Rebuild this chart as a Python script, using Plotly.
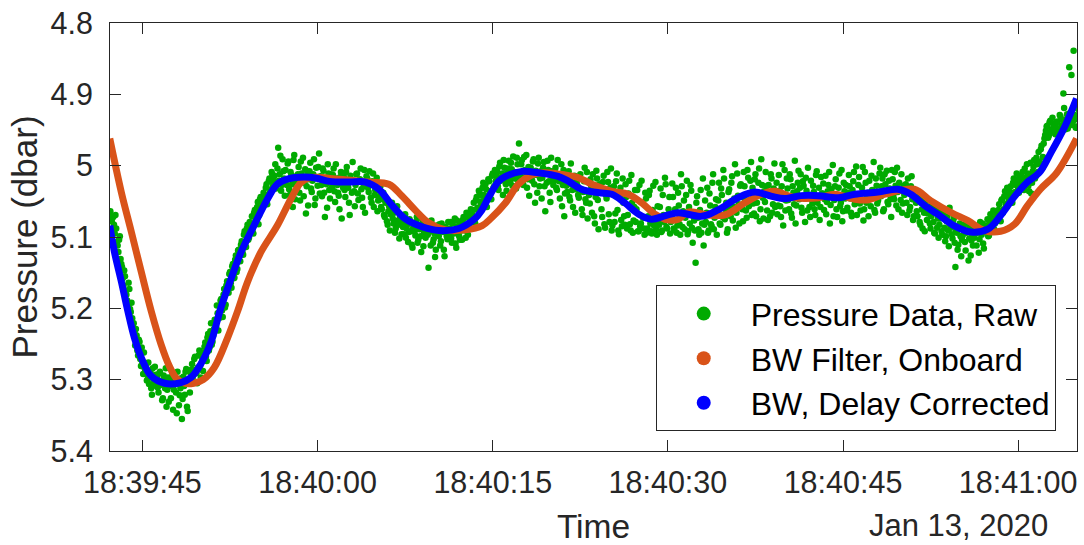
import numpy as np
import pandas as pd
import plotly.graph_objects as go

# ---------------- data ----------------
BASE = "2020-01-13 18:39:00"          # times below are seconds after this
X_RANGE_S = [42.22, 125.04]

# Raw pressure samples (dbar); two interleaved sample sets, each at 8 Hz
RAW_DT_S = 0.125
RAW_A_START_S = 42.25
RAW_A_P = [
    5.064, 5.078, 5.072, 5.095, 5.088, 5.112, 5.104, 5.131,
    5.142, 5.168, 5.155, 5.181, 5.196, 5.173, 5.205, 5.214,
    5.221, 5.252, 5.238, 5.266, 5.247, 5.281, 5.276, 5.262,
    5.288, 5.301, 5.276, 5.297, 5.312, 5.284, 5.305, 5.293,
    5.296, 5.318, 5.289, 5.307, 5.326, 5.301, 5.284, 5.314,
    5.331, 5.298, 5.309, 5.342, 5.295, 5.318, 5.289, 5.336,
    5.312, 5.355, 5.296, 5.321, 5.285, 5.344, 5.301, 5.290,
    5.278, 5.302, 5.268, 5.291, 5.283, 5.259, 5.297, 5.272,
    5.262, 5.248, 5.274, 5.236, 5.255, 5.221, 5.247, 5.229,
    5.218, 5.196, 5.231, 5.204, 5.187, 5.212, 5.173, 5.195,
    5.162, 5.178, 5.149, 5.171, 5.138, 5.157, 5.126, 5.145,
    5.118, 5.134, 5.106, 5.125, 5.092, 5.114, 5.083, 5.101,
    5.087, 5.071, 5.095, 5.062, 5.078, 5.051, 5.069, 5.044,
    5.057, 5.038, 5.049, 5.026, 5.041, 5.018, 5.033, 5.012,
    5.021, 4.998, 5.028, 4.975, 5.012, 5.035, 4.991, 5.018,
    5.006, 5.027, 4.994, 5.041, 5.013, 5.058, 4.985, 5.022,
    5.031, 5.002, 5.049, 5.011, 4.989, 5.024, 5.067, 5.008,
    5.019, 4.996, 5.037, 5.012, 5.055, 5.003, 5.028, 4.983,
    5.015, 5.043, 5.007, 5.072, 5.026, 4.998, 5.034, 5.012,
    5.029, 5.004, 5.051, 5.018, 5.038, 5.061, 5.009, 5.025,
    5.016, 5.044, 5.002, 5.031, 5.069, 5.021, 4.995, 5.036,
    5.027, 5.011, 5.048, 5.019, 5.033, 5.058, 5.006, 5.024,
    5.018, 5.037, 5.026, 5.052, 5.011, 5.041, 5.029, 5.064,
    5.044, 5.029, 5.061, 5.038, 5.072, 5.049, 5.083, 5.057,
    5.068, 5.052, 5.081, 5.094, 5.063, 5.077, 5.102, 5.071,
    5.079, 5.096, 5.068, 5.088, 5.107, 5.075, 5.092, 5.115,
    5.083, 5.098, 5.072, 5.104, 5.089, 5.121, 5.078, 5.094,
    5.101, 5.086, 5.143, 5.092, 5.077, 5.108, 5.095, 5.118,
    5.084, 5.099, 5.112, 5.081, 5.093, 5.127, 5.088, 5.103,
    5.096, 5.079, 5.108, 5.091, 5.074, 5.115, 5.085, 5.099,
    5.083, 5.104, 5.072, 5.091, 5.066, 5.097, 5.078, 5.061,
    5.069, 5.052, 5.081, 5.044, 5.063, 5.038, 5.057, 5.031,
    5.041, 5.026, 5.058, 5.019, 5.036, 5.047, 5.011, 5.029,
    5.022, 5.008, 5.034, 4.996, 5.017, 5.041, 5.003, 5.026,
    5.011, 4.993, 5.024, 5.005, 4.987, 5.018, 5.032, 4.998,
    4.969, 5.014, 4.992, 5.027, 5.006, 4.985, 5.019, 5.042,
    5.003, 5.021, 4.991, 5.052, 5.013, 4.997, 5.029, 5.008,
    5.017, 4.995, 5.064, 5.024, 5.006, 5.038, 4.989, 5.015,
    5.021, 5.003, 5.034, 5.012, 5.046, 4.998, 5.027, 5.071,
    5.019, 5.037, 5.008, 5.049, 5.026, 5.058, 5.014, 5.033,
    5.028, 5.045, 5.012, 5.061, 5.037, 5.003, 5.052, 5.074,
    5.041, 5.019, 5.066, 5.032, 5.081, 5.007, 5.048, 5.026,
    5.035, 5.072, 5.014, 5.087, 5.046, 5.023, 5.079, 5.004,
    5.084, 5.029, 5.067, 5.011, 5.091, 5.043, 5.076, 5.018,
    5.071, 5.026, 5.088, 5.039, 5.082, 5.013, 5.094, 5.058,
    5.079, 5.034, 5.092, 5.085, 5.021, 5.073, 5.097, 5.046,
    5.088, 5.041, 5.081, 5.095, 5.028, 5.077, 5.089, 5.057,
    5.083, 5.032, 5.091, 5.069, 5.017, 5.086, 5.074, 5.044,
    5.079, 5.025, 5.088, 5.061, 5.094, 5.038, 5.082, 5.012,
    5.086, 5.049, 5.073, 5.021, 5.092, 5.081, 5.035, 5.108,
    5.077, 5.136, 5.043, 5.089, 5.062, 5.094, 5.018, 5.083,
    5.079, 5.031, 5.091, 5.056, 5.085, 5.012, 5.073, 5.047,
    5.068, 5.024, 5.083, 5.041, 5.006, 5.075, 5.052, 5.089,
    5.033, 5.071, 5.015, 5.058, 4.998, 5.066, 5.042, 5.081,
    5.026, 5.061, 5.009, 5.048, 5.073, 5.017, 5.054, 4.995,
    5.031, 5.067, 5.012, 5.052, 5.024, 5.078, 4.991, 5.045,
    5.036, 5.009, 5.063, 5.027, 5.071, 5.018, 5.054, 4.997,
    5.041, 5.068, 5.013, 5.057, 5.029, 5.084, 5.006, 5.049,
    5.032, 5.061, 5.019, 5.073, 5.038, 4.993, 5.056, 5.024,
    5.047, 5.012, 5.066, 5.028, 5.079, 5.035, 5.003, 5.058,
    5.021, 5.053, 5.037, 5.069, 5.008, 5.044, 5.076, 5.016,
    5.039, 5.062, 5.014, 5.051, 5.027, 5.081, 5.033, 4.999,
    5.048, 5.019, 5.072, 5.031, 5.057, 5.006, 5.064, 5.036,
    5.027, 5.059, 5.013, 5.046, 5.071, 5.022, 5.054, 5.001,
    5.044, 5.016, 5.063, 5.031, 5.077, 5.009, 5.052, 5.038,
    5.021, 5.057, 5.034, 4.995, 5.066, 5.028, 5.049, 5.011,
    5.043, 5.018, 5.061, 5.026, 5.007, 5.054, 5.032, 5.072,
    5.019, 5.047, 5.028, 5.003, 5.061, 5.035, 5.012, 5.053,
    5.041, 5.026, 5.069, 5.034, 5.058, 5.015, 5.076, 5.044,
    5.052, 5.071, 5.038, 5.083, 5.061, 5.045, 5.092, 5.057,
    5.067, 5.049, 5.088, 5.058, 5.079, 5.095, 5.062, 5.074,
    5.083, 5.066, 5.097, 5.072, 5.106, 5.078, 5.091, 5.059,
    5.087, 5.102, 5.073, 5.142, 5.094, 5.111, 5.081, 5.127,
    5.098, 5.083, 5.119, 5.091, 5.133, 5.087, 5.105, 5.112,
    5.101, 5.086, 5.094, 5.122, 5.079, 5.097, 5.109, 5.084,
    5.092, 5.075, 5.098, 5.068, 5.087, 5.063, 5.081, 5.072,
    5.069, 5.054, 5.078, 5.047, 5.061, 5.036, 5.058, 5.041,
    5.044, 5.029, 5.052, 5.018, 5.037, 5.011, 5.033, 5.022,
    5.026, 5.009, 5.034, 5.017, 4.998, 5.028, 5.012, 5.039,
    5.008, 4.992, 5.015, 4.998, 4.981, 4.996, 4.972, 4.988,
    4.962, 4.951, 4.944, 4.958, 4.937, 4.949, 4.941, 4.953,
    4.946, 4.938, 4.952, 4.931, 4.944, 4.899, 4.941, 4.935,
    4.948, 4.862, 4.936, 4.943, 4.839, 4.929, 4.945, 4.921,
]
RAW_B_START_S = 42.3125
RAW_B_P = [
    5.071, 5.092, 5.083, 5.069, 5.107, 5.121, 5.099, 5.138,
    5.158, 5.147, 5.176, 5.189, 5.164, 5.201, 5.192, 5.226,
    5.234, 5.229, 5.259, 5.244, 5.271, 5.255, 5.292, 5.284,
    5.279, 5.294, 5.306, 5.287, 5.321, 5.299, 5.282, 5.309,
    5.311, 5.291, 5.302, 5.329, 5.294, 5.312, 5.338, 5.297,
    5.303, 5.326, 5.291, 5.314, 5.301, 5.347, 5.306, 5.322,
    5.298, 5.327, 5.309, 5.289, 5.338, 5.304, 5.318, 5.286,
    5.295, 5.271, 5.286, 5.305, 5.266, 5.281, 5.262, 5.288,
    5.254, 5.268, 5.241, 5.259, 5.232, 5.251, 5.238, 5.216,
    5.226, 5.207, 5.214, 5.189, 5.203, 5.181, 5.199, 5.168,
    5.169, 5.152, 5.165, 5.141, 5.158, 5.132, 5.149, 5.119,
    5.126, 5.111, 5.121, 5.097, 5.109, 5.088, 5.104, 5.079,
    5.081, 5.089, 5.066, 5.074, 5.058, 5.082, 5.047, 5.061,
    5.052, 5.043, 5.031, 5.054, 5.022, 5.037, 5.009, 5.028,
    5.014, 5.032, 5.004, 5.021, 4.986, 5.027, 5.008, 5.042,
    5.019, 4.997, 5.033, 5.009, 5.026, 4.992, 5.047, 5.015,
    5.012, 5.038, 4.994, 5.021, 5.043, 5.005, 5.029, 5.056,
    5.008, 5.032, 5.021, 4.991, 5.046, 5.016, 5.002, 5.039,
    5.027, 5.004, 5.038, 5.019, 5.059, 5.011, 5.046, 5.022,
    5.013, 5.036, 4.998, 5.027, 5.042, 5.016, 5.074, 5.031,
    5.034, 5.009, 5.027, 5.052, 5.014, 5.038, 5.021, 5.057,
    5.012, 5.039, 5.021, 5.004, 5.045, 5.029, 5.066, 5.015,
    5.031, 5.008, 5.045, 5.022, 5.058, 5.034, 5.017, 5.049,
    5.036, 5.058, 5.047, 5.069, 5.052, 5.078, 5.064, 5.091,
    5.059, 5.074, 5.066, 5.088, 5.057, 5.083, 5.071, 5.096,
    5.086, 5.071, 5.101, 5.082, 5.093, 5.078, 5.111, 5.087,
    5.092, 5.079, 5.108, 5.086, 5.099, 5.074, 5.113, 5.091,
    5.082, 5.097, 5.089, 5.112, 5.084, 5.103, 5.128, 5.092,
    5.097, 5.082, 5.106, 5.091, 5.118, 5.086, 5.099, 5.079,
    5.088, 5.102, 5.081, 5.095, 5.109, 5.077, 5.093, 5.104,
    5.091, 5.076, 5.086, 5.101, 5.072, 5.084, 5.069, 5.079,
    5.062, 5.074, 5.048, 5.059, 5.035, 5.051, 5.042, 5.024,
    5.049, 5.033, 5.044, 5.022, 5.039, 5.014, 5.031, 5.006,
    5.015, 5.029, 5.001, 5.021, 5.011, 4.992, 5.019, 5.035,
    5.004, 5.019, 4.996, 5.028, 5.009, 5.015, 4.989, 5.021,
    5.011, 4.998, 5.023, 4.988, 5.016, 5.031, 5.002, 5.012,
    5.017, 4.994, 5.026, 5.007, 5.038, 4.989, 5.018, 5.046,
    5.003, 5.029, 5.011, 4.993, 5.022, 5.051, 5.008, 5.027,
    5.009, 5.031, 4.992, 5.022, 5.014, 5.057, 5.006, 5.039,
    5.028, 5.011, 5.044, 4.997, 5.034, 5.019, 5.066, 5.024,
    5.041, 5.017, 5.033, 5.069, 5.022, 5.047, 5.009, 5.038,
    5.053, 5.029, 5.012, 5.071, 5.044, 5.018, 5.089, 5.036,
    5.061, 5.023, 5.082, 5.041, 5.009, 5.068, 5.031, 5.091,
    5.038, 5.079, 5.022, 5.062, 5.096, 5.031, 5.085, 5.052,
    5.083, 5.044, 5.069, 5.021, 5.091, 5.052, 5.077, 5.034,
    5.061, 5.092, 5.027, 5.081, 5.052, 5.088, 5.038, 5.094,
    5.071, 5.035, 5.092, 5.062, 5.084, 5.023, 5.097, 5.079,
    5.058, 5.093, 5.041, 5.079, 5.026, 5.088, 5.061, 5.095,
    5.071, 5.044, 5.091, 5.031, 5.084, 5.056, 5.097, 5.029,
    5.064, 5.089, 5.041, 5.096, 5.058, 5.027, 5.087, 5.071,
    5.091, 5.052, 5.073, 5.097, 5.034, 5.081, 5.112, 5.049,
    5.066, 5.094, 5.039, 5.082, 5.024, 5.089, 5.058, 5.097,
    5.049, 5.081, 5.032, 5.072, 5.018, 5.061, 5.094, 5.037,
    5.059, 5.024, 5.077, 5.046, 5.087, 5.011, 5.054, 5.028,
    5.044, 5.078, 5.029, 5.063, 5.006, 5.057, 5.021, 5.069,
    5.053, 5.019, 5.071, 5.038, 5.004, 5.061, 5.027, 5.074,
    5.051, 5.029, 5.076, 5.041, 5.012, 5.066, 5.032, 5.058,
    5.024, 5.056, 5.035, 5.072, 4.998, 5.047, 5.063, 5.018,
    5.048, 5.012, 5.067, 5.029, 5.054, 5.081, 5.036, 5.007,
    5.031, 5.059, 5.022, 5.046, 5.017, 5.063, 5.041, 5.072,
    5.047, 5.028, 5.061, 5.013, 5.052, 5.031, 5.058, 5.039,
    5.025, 5.047, 5.068, 5.036, 5.009, 5.055, 5.042, 5.071,
    5.029, 5.061, 5.041, 5.011, 5.052, 5.078, 5.024, 5.046,
    5.063, 5.038, 5.029, 5.066, 5.034, 5.009, 5.047, 5.069,
    5.027, 5.053, 5.039, 5.002, 5.061, 5.024, 5.043, 5.071,
    5.047, 5.014, 5.041, 5.062, 5.018, 5.053, 5.037, 5.003,
    5.029, 5.064, 5.012, 5.039, 5.051, 5.021, 5.047, 5.006,
    5.042, 5.009, 5.056, 5.037, 5.024, 5.048, 5.066, 5.028,
    5.033, 5.052, 5.018, 5.063, 5.029, 5.047, 5.071, 5.038,
    5.064, 5.043, 5.079, 5.052, 5.088, 5.066, 5.049, 5.076,
    5.058, 5.081, 5.071, 5.052, 5.094, 5.066, 5.087, 5.101,
    5.074, 5.092, 5.068, 5.087, 5.099, 5.071, 5.113, 5.084,
    5.096, 5.077, 5.108, 5.092, 5.118, 5.085, 5.099, 5.104,
    5.089, 5.107, 5.094, 5.081, 5.102, 5.126, 5.097, 5.086,
    5.094, 5.112, 5.089, 5.103, 5.091, 5.081, 5.116, 5.093,
    5.084, 5.099, 5.079, 5.091, 5.074, 5.089, 5.066, 5.078,
    5.062, 5.071, 5.049, 5.066, 5.043, 5.054, 5.031, 5.049,
    5.037, 5.046, 5.024, 5.041, 5.027, 5.019, 5.038, 5.014,
    5.018, 5.031, 5.004, 5.022, 5.011, 5.036, 4.996, 5.024,
    5.001, 5.018, 4.989, 5.009, 4.994, 4.977, 5.004, 4.969,
    4.957, 4.945, 4.961, 4.939, 4.954, 4.933, 4.947, 4.956,
    4.939, 4.951, 4.929, 4.947, 4.936, 4.919, 4.949, 4.928,
    4.941, 4.926, 4.873, 4.938, 4.932, 4.947, 4.918, 4.936,
]

# Onboard Butterworth filter output
ONBOARD_T = [42.2, 43.2, 44.05, 44.9, 45.75, 46.6, 47.3, 47.9, 48.6, 49.4,
             50.2, 51.15, 52.3, 53.15, 54.0, 55.15, 56.55, 57.7, 58.55, 59.3,
             61.8, 64.3, 66.1, 67.25, 68.4, 69.5, 70.95, 72.65, 74.1, 74.9,
             76.1, 77.2, 78.35, 79.5, 81.2, 82.35, 83.5, 85.2, 86.6, 87.75,
             88.9, 90.0, 90.9, 91.75, 93.45, 94.9, 96.6, 98.0, 99.15, 100.9,
             102.9, 104.3, 106.0, 107.1, 108.6, 111.1, 112.5, 114.3, 115.7, 117.1,
             118.5, 119.7, 120.8, 121.9, 123.3, 125.0]
ONBOARD_P = [4.962, 5.038, 5.093, 5.149, 5.204, 5.251, 5.281, 5.298, 5.305, 5.305,
             5.300, 5.283, 5.241, 5.204, 5.163, 5.121, 5.084, 5.047, 5.024, 5.017,
             5.019, 5.023, 5.026, 5.043, 5.063, 5.080, 5.090, 5.090, 5.084, 5.073,
             5.052, 5.026, 5.013, 5.010, 5.013, 5.017, 5.026, 5.036, 5.040, 5.052,
             5.068, 5.076, 5.075, 5.065, 5.069, 5.069, 5.052, 5.040, 5.036, 5.045,
             5.045, 5.040, 5.047, 5.048, 5.040, 5.033, 5.049, 5.066, 5.077, 5.091,
             5.092, 5.082, 5.056, 5.033, 5.010, 4.962]

# Butterworth, delay corrected
CORR_T = [42.2, 42.6, 43.2, 43.75, 44.3, 44.9, 45.75, 46.9, 48.3, 49.15,
          50.0, 50.9, 51.7, 52.6, 53.45, 54.55, 55.7, 56.55, 57.4, 58.85,
          60.0, 61.0, 62.7, 64.1, 65.25, 66.4, 67.55, 69.0, 70.4, 72.1,
          73.5, 74.0, 74.7, 75.5, 76.1, 77.5, 78.9, 80.6, 81.5, 82.6,
          84.1, 85.2, 86.3, 87.5, 88.6, 89.8, 90.9, 92.9, 94.3, 96.0,
          97.45, 98.9, 100.0, 101.4, 102.9, 104.6, 106.0, 108.0, 109.7, 110.8,
          112.0, 113.1, 114.5, 115.95, 117.4, 118.5, 119.7, 120.8, 121.8, 122.8,
          124.0, 125.0]
CORR_P = [5.084, 5.121, 5.163, 5.204, 5.241, 5.269, 5.295, 5.305, 5.304, 5.297,
          5.278, 5.246, 5.200, 5.158, 5.121, 5.084, 5.047, 5.026, 5.019, 5.016,
          5.018, 5.022, 5.023, 5.023, 5.033, 5.056, 5.075, 5.086, 5.091, 5.088,
          5.074, 5.064, 5.043, 5.022, 5.015, 5.008, 5.010, 5.015, 5.022, 5.033,
          5.038, 5.040, 5.052, 5.068, 5.075, 5.070, 5.066, 5.071, 5.062, 5.045,
          5.037, 5.043, 5.046, 5.042, 5.042, 5.045, 5.040, 5.037, 5.033, 5.040,
          5.056, 5.068, 5.084, 5.093, 5.089, 5.070, 5.043, 5.023, 5.010, 4.982,
          4.945, 4.906]

Y_TICKS = [4.8, 4.9, 5.0, 5.1, 5.2, 5.3, 5.4]
Y_TICK_TEXT = ["4.8", "4.9", "5", "5.1", "5.2", "5.3", "5.4"]

NAMES = ["Pressure Data, Raw", "BW Filter, Onboard", "BW, Delay Corrected"]
COLORS = ["#00AA00", "#D95319", "#0000FF"]

# ---------------- helpers ----------------
base = pd.Timestamp(BASE)


def to_time(sec):
    return base + pd.to_timedelta(np.asarray(sec, dtype=float), unit="s")


raw_t = np.concatenate([RAW_A_START_S + RAW_DT_S * np.arange(len(RAW_A_P)),
                        RAW_B_START_S + RAW_DT_S * np.arange(len(RAW_B_P))])
raw_p = np.concatenate([RAW_A_P, RAW_B_P])

fig = go.Figure()
fig.add_trace(go.Scatter(x=to_time(raw_t), y=raw_p, mode="markers",
                         marker=dict(color=COLORS[0], size=6.5, line=dict(width=0)),
                         showlegend=False, hoverinfo="skip"))
fig.add_trace(go.Scatter(x=to_time(ONBOARD_T), y=ONBOARD_P, mode="lines",
                         line=dict(color=COLORS[1], width=7, shape="spline", smoothing=1.0),
                         showlegend=False))
fig.add_trace(go.Scatter(x=to_time(CORR_T), y=CORR_P, mode="lines",
                         line=dict(color=COLORS[2], width=7, shape="spline", smoothing=1.0),
                         showlegend=False))
for name, col in zip(NAMES, COLORS):
    fig.add_trace(go.Scatter(x=[None], y=[None], mode="markers", name=name,
                             marker=dict(color=col, size=14)))

FONT = "Liberation Sans, Arial, Helvetica, sans-serif"
AX = "#262626"

fig.update_layout(
    width=1084, height=545,
    margin=dict(l=110, r=6, t=18, b=94),
    paper_bgcolor="white", plot_bgcolor="white",
    font=dict(family=FONT, size=30, color=AX),
    showlegend=True,
    legend=dict(x=0.978, xanchor="right", y=0.046, yanchor="bottom",
                bgcolor="white", bordercolor=AX, borderwidth=1,
                font=dict(size=32, color="black"), itemsizing="trace",
                itemwidth=84),
    annotations=[dict(text="Jan 13, 2020", xref="paper", yref="paper",
                      x=0.877, y=-0.175, xanchor="center", yanchor="middle",
                      showarrow=False, font=dict(size=31, color=AX))],
)
fig.update_xaxes(
    type="date", range=[to_time(X_RANGE_S[0]), to_time(X_RANGE_S[1])],
    tick0=to_time(45.0), dtick=15000, tickformat="%H:%M:%S",
    showgrid=False, zeroline=False,
    showline=True, linecolor=AX, linewidth=1, mirror="ticks",
    ticks="inside", ticklen=11, tickcolor=AX,
    tickfont=dict(size=30.5, color=AX), ticklabelstandoff=4,
    title=dict(text="Time", font=dict(size=33.5, color=AX), standoff=16),
)
fig.update_yaxes(
    range=[5.4, 4.8], tickvals=Y_TICKS, ticktext=Y_TICK_TEXT,
    showgrid=False, zeroline=False,
    showline=True, linecolor=AX, linewidth=1, mirror="ticks",
    ticks="inside", ticklen=11, tickcolor=AX,
    tickfont=dict(size=30.5, color=AX), ticklabelstandoff=10,
    title=dict(text="Pressure (dbar)", font=dict(size=35, color=AX), standoff=2),
)

fig.write_html("out.html")
